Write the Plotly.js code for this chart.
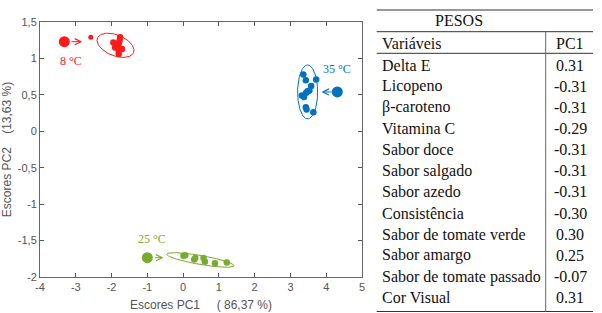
<!DOCTYPE html>
<html>
<head>
<meta charset="utf-8">
<script src="https://cdn.plot.ly/plotly-3.0.1.min.js"></script>
<style>html,body{margin:0;padding:0;background:#fff;}#chart{width:602px;height:313px;}</style>
</head>
<body>
<div id="chart"></div>
<script>
// ---- PCA scores ----
const red8X   = [-1.95, -1.80, -1.76, -1.90, -1.80, -1.80, -1.71, -1.85, -1.78, -1.88];
const red8Y   = [ 1.22,  1.20,  1.29,  1.15,  1.11,  1.06,  1.13,  1.18,  1.24,  1.19];
const red8OutX = [-2.58];
const red8OutY = [ 1.29];
const blue35X = [3.36, 3.43, 3.72, 3.58, 3.53, 3.44, 3.32, 3.38, 3.43, 3.45, 3.64, 3.48];
const blue35Y = [0.78, 0.70, 0.71, 0.62, 0.56, 0.53, 0.49, 0.47, 0.33, 0.30, 0.26, 0.55];
const green25X = [0.01, 0.06, 0.31, 0.34, 0.57, 0.61, 0.89, 1.22];
const green25Y = [-1.71, -1.70, -1.76, -1.74, -1.74, -1.79, -1.81, -1.80];

// group centroid markers / labels
const groupLabels = ["8 °C", "25 °C", "35 °C"];
const groupColors = ["#ff1a1a", "#77ac30", "#0072bd"];
const centroidX = [-3.32, -1.00, 4.31];
const centroidY = [ 1.23, -1.735, 0.54];
const labelX = [-3.13, -0.87, 4.29];
const labelY = [ 0.96, -1.48, 0.86];
const arrowTailX = [-3.16, -0.83, 4.19];
const arrowHeadX = [-2.82, -0.55, 3.87];
const arrowY = [1.23, -1.735, 0.54];

// confidence ellipses: center and two conjugate half-axis vectors (data units)
const ellCX = [-1.89, 0.48, 3.48];
const ellCY = [ 1.18, -1.766, 0.54];
const ellUX = [0.505, 0.94, 0.0];
const ellUY = [-0.10, -0.08, 0.37];
const ellVX = [0.11, 0.0215, 0.28];
const ellVY = [0.133, 0.0607, 0.0];

// axis ticks
const xTickVals = [-4, -3, -2, -1, 0, 1, 2, 3, 4, 5];
const xTickText = ["-4", "-3", "-2", "-1", "0", "1", "2", "3", "4", "5"];
const yTickVals = [-2, -1.5, -1, -0.5, 0, 0.5, 1, 1.5];
const yTickText = ["-2", "-1,5", "-1", "-0,5", "0", "0,5", "1", "1,5"];

// ---- loadings table ----
const tableTitle = "PESOS";
const tableHeader = ["Variáveis", "PC1"];
const variables = ["Delta E", "Licopeno", "β-caroteno", "Vitamina C", "Sabor doce", "Sabor salgado",
  "Sabor azedo", "Consistência", "Sabor de tomate verde", "Sabor amargo", "Sabor de tomate passado", "Cor Visual"];
const pc1 = [0.31, -0.31, -0.31, -0.29, -0.31, -0.31, -0.31, -0.30, 0.30, 0.25, -0.07, 0.31];

// ---- build ----
const W = 602, H = 313;
const px = v => v / W, py = v => 1 - v / H;
const traces = [];
const groupsX = [red8X, green25X, blue35X];
const groupsY = [red8Y, green25Y, blue35Y];

for (let g = 0; g < 3; g++) {
  const ex = [], ey = [];
  for (let i = 0; i <= 120; i++) {
    const t = 2 * Math.PI * i / 120;
    ex.push(ellCX[g] + ellUX[g] * Math.cos(t) + ellVX[g] * Math.sin(t));
    ey.push(ellCY[g] + ellUY[g] * Math.cos(t) + ellVY[g] * Math.sin(t));
  }
  traces.push({type: 'scatter', mode: 'lines', x: ex, y: ey, line: {color: groupColors[g], width: 1}, hoverinfo: 'skip'});
  traces.push({type: 'scatter', mode: 'markers', x: groupsX[g], y: groupsY[g],
    marker: {color: groupColors[g], size: 6.5}});
}
traces.push({type: 'scatter', mode: 'markers', x: red8OutX, y: red8OutY, marker: {color: groupColors[0], size: 5}});
traces.push({type: 'scatter', mode: 'markers', x: centroidX, y: centroidY,
  marker: {color: groupColors, size: 11}});

const serif = 'Liberation Serif, Times New Roman, serif';
const tFont = {family: serif, size: 16, color: '#111'};
const annotations = [];
for (let g = 0; g < 3; g++) {
  annotations.push({x: labelX[g], y: labelY[g], xref: 'x', yref: 'y', text: groupLabels[g], showarrow: false,
    font: {family: serif, size: 12, color: groupColors[g]}});
  annotations.push({x: arrowHeadX[g], y: arrowY[g], ax: arrowTailX[g], ay: arrowY[g], xref: 'x', yref: 'y',
    axref: 'x', ayref: 'y', text: '', showarrow: true, arrowhead: 5, arrowsize: 1.2, arrowwidth: 1,
    arrowcolor: groupColors[g], standoff: 0, startstandoff: 0});
}
// table text
const colLeft = 380, colMid = 570;
annotations.push({x: px(485), y: py(21), xref: 'paper', yref: 'paper', text: tableTitle, showarrow: false, font: tFont, yanchor: 'middle'});
annotations.push({x: px(colLeft), y: py(43.5), xref: 'paper', yref: 'paper', text: tableHeader[0], showarrow: false, font: tFont, xanchor: 'left', yanchor: 'middle'});
annotations.push({x: px(colMid), y: py(43.5), xref: 'paper', yref: 'paper', text: tableHeader[1], showarrow: false, font: tFont, xanchor: 'center', yanchor: 'middle'});
for (let i = 0; i < variables.length; i++) {
  const yy = py(65 + i * 21.15);
  annotations.push({x: px(colLeft), y: yy, xref: 'paper', yref: 'paper', text: variables[i], showarrow: false, font: tFont, xanchor: 'left', yanchor: 'middle'});
  annotations.push({x: px(colMid), y: yy, xref: 'paper', yref: 'paper', text: pc1[i].toFixed(2), showarrow: false, font: tFont, xanchor: 'center', yanchor: 'middle'});
}

const lc = '#333';
const shapes = [
  {type: 'line', xref: 'paper', yref: 'paper', x0: px(376.7), x1: px(593), y0: py(10), y1: py(10), line: {color: lc, width: 1.2}},
  {type: 'line', xref: 'paper', yref: 'paper', x0: px(376.7), x1: px(593), y0: py(31.7), y1: py(31.7), line: {color: lc, width: 1}},
  {type: 'line', xref: 'paper', yref: 'paper', x0: px(376.7), x1: px(593), y0: py(53.3), y1: py(53.3), line: {color: lc, width: 1}},
  {type: 'line', xref: 'paper', yref: 'paper', x0: px(376.7), x1: px(593), y0: py(311.5), y1: py(311.5), line: {color: lc, width: 1.2}},
  {type: 'line', xref: 'paper', yref: 'paper', x0: px(545.7), x1: px(545.7), y0: py(31.7), y1: py(311.5), line: {color: '#666', width: 1}}
];

const axFont = {family: 'Liberation Sans, Arial, sans-serif', size: 11, color: '#555'};
const layout = {
  width: W, height: H, margin: {l: 0, r: 0, t: 0, b: 0},
  paper_bgcolor: 'white', plot_bgcolor: 'white', showlegend: false,
  xaxis: {domain: [px(40), px(362)], range: [-4, 5], tickvals: xTickVals, ticktext: xTickText,
    ticks: 'inside', ticklen: 4, tickcolor: '#555', showline: true, linecolor: '#666', linewidth: 1,
    mirror: 'allticks', showgrid: false, zeroline: false, tickfont: axFont,
    title: {text: 'Escores PC1\u00a0\u00a0\u00a0\u00a0\u00a0( 86,37 %)', standoff: 8,
      font: {family: 'Liberation Sans, Arial, sans-serif', size: 12, color: '#555'}}},
  yaxis: {domain: [1 - 277 / H, 1 - 22 / H], range: [-2, 1.5], tickvals: yTickVals, ticktext: yTickText,
    ticks: 'inside', ticklen: 4, tickcolor: '#555', showline: true, linecolor: '#666', linewidth: 1,
    mirror: 'allticks', showgrid: false, zeroline: false, tickfont: axFont,
    title: {text: 'Escores PC2\u00a0\u00a0\u00a0\u00a0(13,63 %)', standoff: 5,
      font: {family: 'Liberation Sans, Arial, sans-serif', size: 12, color: '#555'}}},
  annotations: annotations, shapes: shapes
};
Plotly.newPlot('chart', [].concat(traces), layout, {staticPlot: true, displayModeBar: false});
</script>
</body>
</html>
